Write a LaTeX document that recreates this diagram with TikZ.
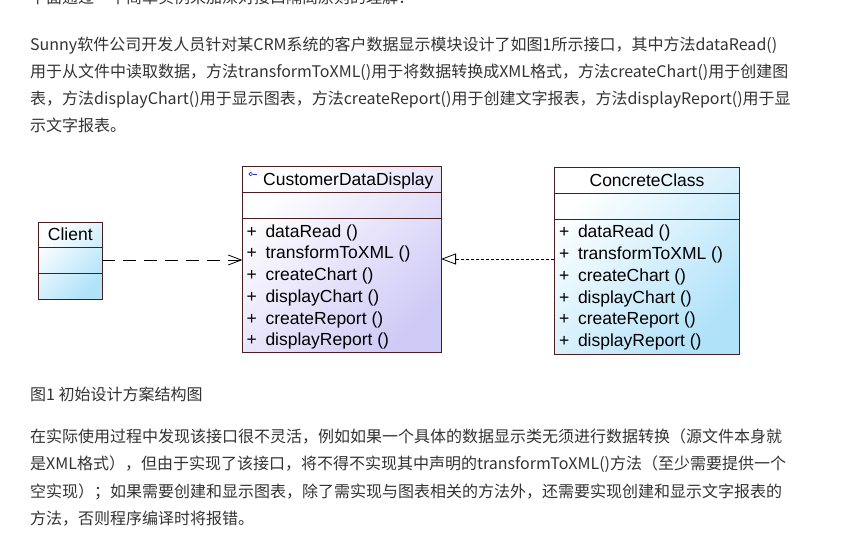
\documentclass[tikz,border=0pt]{standalone}
\usepackage{fontspec}
\setmainfont{Liberation Sans}
\newfontfamily\cjk{Noto Sans CJK SC}
\usetikzlibrary{arrows.meta}
\definecolor{txt}{HTML}{333333}
\definecolor{bord}{HTML}{4A1E1E}
\definecolor{lblue}{HTML}{B0E2FA}
\definecolor{lav}{HTML}{D0CAF6}
\definecolor{ifc}{HTML}{2828C8}
\begin{document}
\begin{tikzpicture}[x=1pt,y=-1pt,
  para/.style={anchor=base west, inner sep=0pt, text=txt, font=\cjk\fontsize{16}{19}\selectfont},
  classbox/.style={draw=bord, line width=0.9pt, inner sep=0pt, outer sep=0pt},
  sepline/.style={draw=bord, line width=0.9pt},
  uml/.style={anchor=base west, inner sep=0pt, font=\fontsize{17.5}{20}\selectfont, text=black},
  umltitle/.style={anchor=base, inner sep=0pt, font=\fontsize{17.5}{20}\selectfont, text=black},
  deparrow/.style={draw=black, line width=0.8pt, dash pattern=on 13pt off 8pt, -{Straight Barb[length=13pt,width=10pt]}},
  implarrow/.style={draw=black, line width=0.8pt, dash pattern=on 3pt off 2pt, -{Triangle[open, fill=white, length=15pt, width=11pt]}}
]
\clip (0,0) rectangle (862,534);
\fill[white] (0,0) rectangle (862,534);

% text above
\node[para] (t0) at (30,3.5) {下面通过一个简单实例来加深对接口隔离原则的理解：};
\node[para] (p1) at (30,51) {Sunny软件公司开发人员针对某CRM系统的客户数据显示模块设计了如图1所示接口，其中方法dataRead()};
\node[para] (p2) at (30,78) {用于从文件中读取数据，方法transformToXML()用于将数据转换成XML格式，方法createChart()用于创建图};
\node[para] (p3) at (30,105) {表，方法displayChart()用于显示图表，方法createReport()用于创建文字报表，方法displayReport()用于显};
\node[para] (p4) at (30,132) {示文字报表。};

% Client
\node[classbox, minimum width=64pt, minimum height=76.6pt, top color=white, bottom color=lblue, shading angle=45] (client) at (70.3,261) {};
\draw[sepline] (38.3,247.7) -- (102.3,247.7);
\draw[sepline] (38.3,273.3) -- (102.3,273.3);
\node[umltitle] (clientname) at (70.3,241) {Client};

% CustomerDataDisplay
\node[classbox, minimum width=198.7pt, minimum height=186pt, top color=white, bottom color=lav, shading angle=45] (cdd) at (341.65,259.7) {};
\draw[sepline] (242.3,192.3) -- (441,192.3);
\draw[sepline] (242.3,218.3) -- (441,218.3);
\draw[ifc, line width=0.6pt] (250.7,174) circle (1.8pt);
\draw[ifc, line width=0.6pt] (252.5,174) -- (256.5,174);
\node[uml] (cddname) at (263,186) {CustomerDataDisplay};
\foreach \n/\m/\y in {a/dataRead/237.3, b/transformToXML/259, c/createChart/280.7, d/displayChart/302.4, e/createReport/324.1, f/displayReport/345.8}{
  \node[uml] (cddp\n) at (246.3,\y) {+};
  \node[uml] (cddm\n) at (265.3,\y) {\m\ ()};
}

% ConcreteClass
\node[classbox, minimum width=185pt, minimum height=186.7pt, top color=white, bottom color=lblue, shading angle=45] (cc) at (646.8,260.65) {};
\draw[sepline] (554.3,193.3) -- (739.3,193.3);
\draw[sepline] (554.3,219.3) -- (739.3,219.3);
\node[umltitle] (ccname) at (647,186.5) {ConcreteClass};
\foreach \n/\m/\y in {a/dataRead/238, b/transformToXML/259.7, c/createChart/281.4, d/displayChart/303.1, e/createReport/324.8, f/displayReport/346.5}{
  \node[uml] (ccp\n) at (558.8,\y) {+};
  \node[uml] (ccm\n) at (577.8,\y) {\m\ ()};
}

% connectors
\draw[deparrow] (client.east |- 0,260) -- (cdd.west |- 0,260);
\draw[implarrow] (cc.west |- 0,259) -- (cdd.east |- 0,259);

% caption and text below
\node[para] (cap) at (30,401) {图1 初始设计方案结构图};
\node[para] (q1) at (30,442) {在实际使用过程中发现该接口很不灵活，例如如果一个具体的数据显示类无须进行数据转换（源文件本身就};
\node[para] (q2) at (30,469.5) {是XML格式），但由于实现了该接口，将不得不实现其中声明的transformToXML()方法（至少需要提供一个};
\node[para] (q3) at (30,497) {空实现）；如果需要创建和显示图表，除了需实现与图表相关的方法外，还需要实现创建和显示文字报表的};
\node[para] (q4) at (30,524.5) {方法，否则程序编译时将报错。};
\end{tikzpicture}
\end{document}
